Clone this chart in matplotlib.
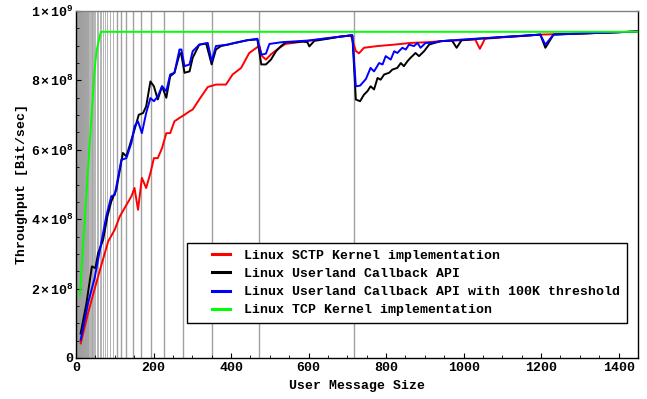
import matplotlib
matplotlib.use("Agg")
import matplotlib.pyplot as plt
from matplotlib.lines import Line2D
from matplotlib.legend_handler import HandlerLine2D
from matplotlib.ticker import MultipleLocator


# throughput values are in units of 1e8 bit/sec
sctp_x = [12, 31, 57, 83, 100, 113, 130, 143, 151, 160,
          170, 181, 192, 201, 211, 222, 233, 243, 254, 267,
          280, 293, 301, 318, 340, 361, 387, 404, 426, 447,
          473, 480, 490, 503, 520, 540, 600, 709, 722, 730,
          743, 778, 820, 863, 906, 941, 1000, 1030, 1042, 1055,
          1100, 1198, 1300, 1450]
sctp_y = [0.42, 1.29, 2.35, 3.36, 3.70, 4.08, 4.41, 4.66, 4.90, 4.27,
          5.19, 4.90, 5.33, 5.76, 5.76, 6.05, 6.48, 6.48, 6.82, 6.92,
          7.01, 7.11, 7.16, 7.45, 7.81, 7.88, 7.88, 8.17, 8.36, 8.79,
          9.00, 8.70, 8.60, 8.75, 8.90, 9.05, 9.14, 9.30, 8.85, 8.78,
          8.94, 8.99, 9.03, 9.08, 9.10, 9.13, 9.16, 9.18, 8.91, 9.20,
          9.24, 9.32, 9.35, 9.41]

callback_x = [12, 27, 41, 50, 57, 70, 81, 91, 104, 121,
              130, 143, 151, 162, 173, 181, 192, 201, 211, 222,
              233, 243, 254, 267, 271, 280, 293, 301, 318, 336,
              350, 361, 374, 391, 409, 443, 468, 478, 490, 503,
              516, 529, 542, 560, 585, 597, 602, 615, 650, 680,
              713, 722, 733, 743, 752, 760, 769, 778, 786, 795,
              808, 816, 829, 838, 846, 855, 863, 876, 885, 898,
              911, 919, 941, 970, 982, 995, 1040, 1100, 1150, 1198,
              1211, 1232, 1300, 1380, 1450]
callback_y = [0.71, 1.58, 2.64, 2.59, 3.02, 3.41, 4.08, 4.51, 4.85, 5.91,
              5.81, 6.29, 6.58, 7.01, 7.06, 7.25, 7.97, 7.83, 7.45, 7.83,
              7.50, 8.12, 8.22, 8.75, 8.79, 8.22, 8.26, 8.65, 9.03, 9.06,
              8.46, 8.89, 8.99, 9.03, 9.08, 9.16, 9.18, 8.46, 8.46, 8.60,
              8.84, 8.99, 9.10, 9.10, 9.12, 9.10, 8.98, 9.14, 9.20, 9.26,
              9.30, 7.45, 7.40, 7.59, 7.69, 7.83, 7.74, 8.07, 8.02, 8.17,
              8.22, 8.31, 8.36, 8.50, 8.41, 8.55, 8.65, 8.79, 8.70, 8.84,
              9.03, 9.06, 9.13, 9.15, 8.94, 9.16, 9.20, 9.25, 9.28, 9.32,
              8.94, 9.32, 9.35, 9.38, 9.41]

threshold_x = [12, 31, 48, 65, 78, 91, 100, 117, 130, 143,
               151, 160, 170, 181, 192, 201, 211, 222, 233, 243,
               254, 267, 272, 280, 293, 301, 318, 340, 350, 361,
               391, 443, 468, 478, 490, 499, 530, 600, 650, 713,
               722, 733, 748, 760, 769, 782, 791, 799, 812, 821,
               829, 842, 851, 859, 872, 881, 889, 902, 915, 941,
               1000, 1100, 1198, 1211, 1232, 1300, 1380, 1450]
threshold_y = [0.52, 1.58, 2.30, 3.31, 4.08, 4.66, 4.70, 5.71, 5.76, 6.20,
               6.68, 6.82, 6.48, 7.06, 7.49, 7.40, 7.54, 7.83, 7.69, 8.17,
               8.22, 8.89, 8.89, 8.41, 8.46, 8.84, 9.03, 9.08, 8.55, 8.99,
               9.03, 9.16, 9.20, 8.74, 8.77, 9.05, 9.10, 9.15, 9.22, 9.30,
               7.83, 7.85, 8.04, 8.36, 8.26, 8.50, 8.46, 8.70, 8.60, 8.84,
               8.79, 8.94, 8.89, 9.03, 8.99, 9.08, 8.94, 9.08, 9.08, 9.13,
               9.18, 9.25, 9.32, 9.03, 9.32, 9.35, 9.38, 9.41]

tcp_x = [10, 20, 30, 40, 48, 53, 64, 1450]
tcp_y = [1.80, 3.55, 5.25, 6.95, 8.30, 8.85, 9.40, 9.40]

labels = [
    "Linux SCTP Kernel implementation",
    "Linux Userland Callback API",
    "Linux Userland Callback API with 100K threshold",
    "Linux TCP Kernel implementation",
]
colors = ["#ff0000", "#000000", "#0000ff", "#00ff00"]

y_ticks = [0, 2e8, 4e8, 6e8, 8e8, 1e9]
y_tick_labels = ["0", r"$2\times10^{8}$", r"$4\times10^{8}$",
                 r"$6\times10^{8}$", r"$8\times10^{8}$", r"$1\times10^{9}$"]

# bundling limits: largest message size that still lets n messages share one packet
PACKET_ROOM = 1468
CHUNK_HEADER = 16
bundle_limits = [PACKET_ROOM // n - CHUNK_HEADER
                 for n in range(2, PACKET_ROOM // (CHUNK_HEADER + 1) + 1)]

FONT = "Liberation Mono"
plt.rcParams["font.family"] = [FONT, "DejaVu Sans"]
plt.rcParams["font.weight"] = "bold"
plt.rcParams["font.size"] = 9.5
plt.rcParams["mathtext.fontset"] = "custom"
plt.rcParams["mathtext.rm"] = FONT + ":bold"
plt.rcParams["mathtext.it"] = FONT + ":bold"
plt.rcParams["mathtext.bf"] = FONT + ":bold"

fig = plt.figure(figsize=(6.47, 3.99), dpi=100)
ax = fig.add_axes([76 / 647, 41 / 399, 562 / 647, 347 / 399])

for xv in bundle_limits:
    lw = 1.0 if xv > 100 else 0.55
    ax.axvline(xv, color="#a0a0a0", lw=lw, zorder=1)

series = [(sctp_x, sctp_y), (callback_x, callback_y),
          (threshold_x, threshold_y), (tcp_x, tcp_y)]
for (xs, ys), color, label in zip(series, colors, labels):
    ax.plot(xs, [v * 1e8 for v in ys], color=color, lw=1.4, label=label, zorder=3)

ax.set_xlim(0, 1450)
ax.set_ylim(0, 1e9)
ax.set_xticks([0, 200, 400, 600, 800, 1000, 1200, 1400])
ax.xaxis.set_minor_locator(MultipleLocator(50))
ax.set_yticks(y_ticks)
ax.set_yticklabels(y_tick_labels)
ax.yaxis.set_minor_locator(MultipleLocator(0.5e8))
ax.tick_params(which="both", direction="in", top=False, right=False)
ax.tick_params(which="major", length=3.5, width=0.8)
ax.tick_params(which="minor", length=2, width=0.6)
ax.tick_params(axis="x", pad=3)
ax.tick_params(axis="y", pad=2)

for side in ["left", "bottom", "right"]:
    ax.spines[side].set_color("black")
    ax.spines[side].set_linewidth(1.0)
ax.spines["top"].set_color("#808080")
ax.spines["top"].set_linewidth(1.0)

ax.set_xlabel("User Message Size", fontweight="bold", labelpad=4)
ax.set_ylabel("Throughput [Bit/sec]", fontweight="bold", labelpad=2)

leg = ax.legend(loc="lower right", bbox_to_anchor=(0.98, 0.101),
                borderaxespad=0,
                handler_map={Line2D: HandlerLine2D(xpad=1.4)},
                handlelength=2.8, handletextpad=1.05, borderpad=0.5,
                labelspacing=0.45, fancybox=False, framealpha=1,
                edgecolor="black")
leg.get_frame().set_linewidth(1.0)
for line in leg.get_lines():
    line.set_linewidth(2.2)

fig.savefig("out.png", dpi=100)
